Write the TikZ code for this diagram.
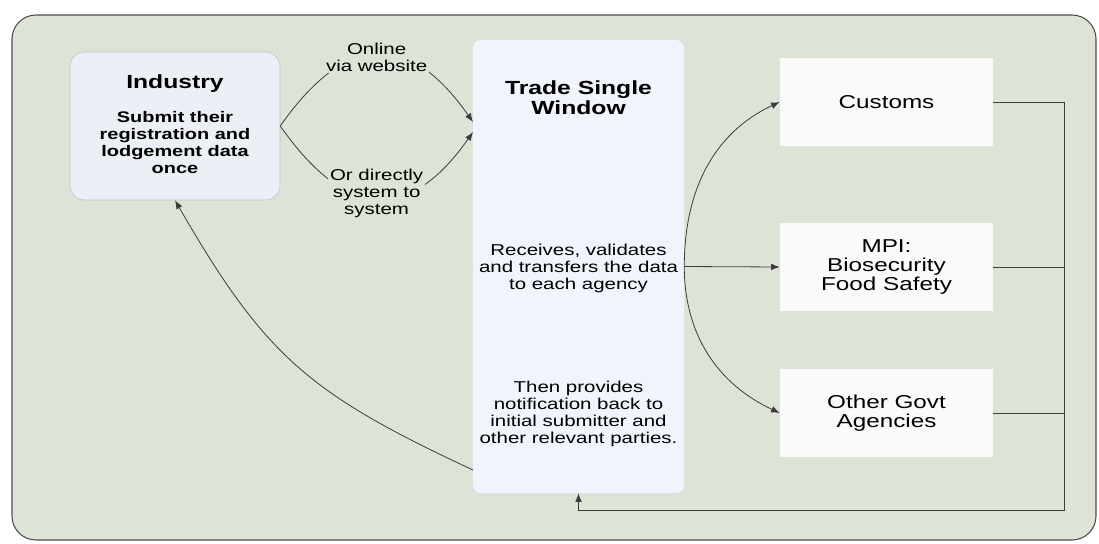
\documentclass[tikz,border=0pt]{standalone}
\usepackage{fontspec}
\setmainfont[FakeStretch=1.3]{Liberation Sans}
\usetikzlibrary{arrows.meta}
\definecolor{panelbg}{RGB}{221,227,214}
\definecolor{indfill}{RGB}{237,239,246}
\definecolor{tswfill}{RGB}{241,244,252}
\definecolor{edgegray}{RGB}{60,60,60}

\begin{document}
\begin{tikzpicture}[x = 0.75pt, y = 0.75pt, every node/.style = {align = center, inner sep = 0pt},
	flow/.style = {draw = edgegray, line width = 0.6pt, -{Latex[length = 6.5pt, width = 5pt]}},
	indbox/.style = {rectangle, rounded corners = 11pt, draw = black!25, fill = indfill, minimum width = 157.5pt, minimum height = 111pt},
	tswbox/.style = {rectangle, rounded corners = 6pt, fill = tswfill, minimum width = 158.25pt, minimum height = 339.75pt},
	agencybox/.style = {rectangle, fill = white!98!black, minimum width = 159.75pt, minimum height = 66pt, font = \fontsize{14pt}{14.6pt}\selectfont},
	heading/.style = {font = \fontsize{14.25pt}{15pt}\selectfont\bfseries},
	boldtext/.style = {font = \fontsize{11.5pt}{12.75pt}\selectfont\bfseries},
	plaintext/.style = {font = \fontsize{11.8pt}{12.75pt}\selectfont},
	channel/.style = {plaintext, fill = panelbg, inner sep = 1.5pt}]

	\useasboundingbox (0,0) rectangle (1099,-543);
	\draw [draw = black!70, line width = 0.8pt, fill = panelbg, rounded corners = 18pt] (12,-15) rectangle (1096,-540);

	\node (ind)      at ( 175,  -126) [indbox]    {};
	\node (indhead)  at ( 175,   -84) [heading]   {Industry};
	\node (indtext)  at ( 175, -142.5) [boldtext] {Submit their\\registration and\\lodgement data\\once};
	\node (tsw)      at (578.5, -266.5) [tswbox]  {};
	\node (tswhead)  at (578.5,   -98) [heading]  {Trade Single\\Window};
	\node (tswrecv)  at (578.5,  -268) [plaintext] {Receives, validates\\and transfers the data\\to each agency};
	\node (tswnote)  at (578.5,  -414) [plaintext] {Then provides\\notification back to\\initial submitter and\\other relevant parties.};
	\node (customs)  at (886.5,  -102) [agencybox] {Customs};
	\node (mpi)      at (886.5,  -267) [agencybox] {MPI:\\Biosecurity\\Food Safety};
	\node (other)    at (886.5,  -413) [agencybox] {Other Govt\\Agencies};

	\coordinate (inA)     at (473, -122);
	\coordinate (inB)     at (473, -132);
	\coordinate (fbout)   at (473, -470);
	\coordinate (railbot) at (1064, -510);

	\path (ind.east) edge [flow, out = 55, in = 125, looseness = 1.5] node [channel, yshift = -2pt] {Online\\via website} (inA);
	\path (ind.east) edge [flow, out = -55, in = -125, looseness = 1.5] node [channel, yshift = 4pt] {Or directly\\system to\\system} (inB);

	\path (tsw.east) edge [flow] (mpi.west);
	\path (tsw.east) edge [flow, out = 90, in = 205] (customs.west);
	\path (tsw.east) edge [flow, out = -90, in = 155] (other.west);

	\foreach \agency in {mpi, other}
		\draw [draw = edgegray, line width = 0.6pt] (\agency.east) -- (\agency.east -| railbot);
	\draw [flow] (customs.east) -| (railbot) -| (tsw.south);

	\path (fbout) edge [flow, out = 155, in = -60, looseness = 1.15] (ind.south);

\end{tikzpicture}
\end{document}
